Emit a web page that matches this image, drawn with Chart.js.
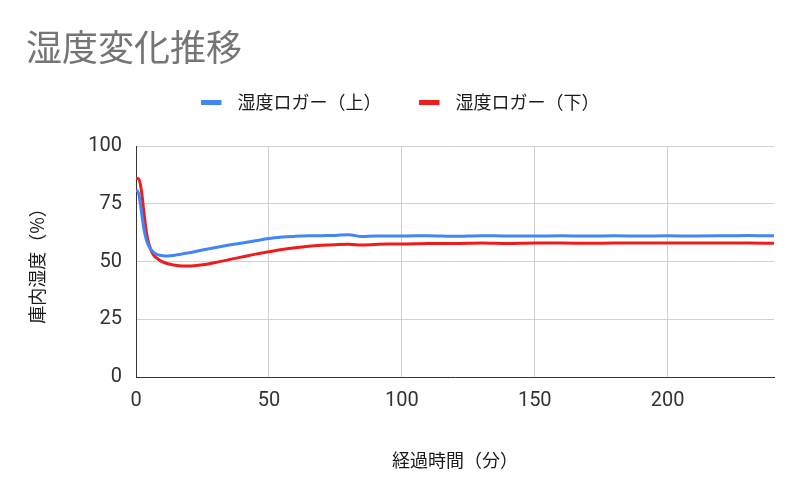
<!DOCTYPE html>
<html lang="ja">
<head>
<meta charset="utf-8">
<title>湿度変化推移</title>
<script src="https://cdn.jsdelivr.net/npm/chart.js@4.4.1/dist/chart.umd.min.js"></script>
<style>
    body { margin: 0; background: #fff; }
    #wrap { width: 800px; height: 500px; }
</style>
</head>
<body>
<div id="wrap"><canvas id="humidity-chart" width="800" height="500"></canvas></div>
<script>
// 経過時間（分）
const minutes = [0, 1, 2, 3, 4, 5, 6, 7, 8, 9, 10, 12, 14, 16, 18, 20, 25, 30, 35, 40, 45,
    50, 55, 60, 65, 70, 75, 80, 85, 90, 95, 100, 110, 120, 130, 140, 150, 160, 170,
    180, 190, 200, 210, 220, 230, 240];

// 湿度ロガー（上）
const upperHumidity = [81, 79.5, 72, 64, 59, 56.3, 54.7, 53.6, 53, 52.7, 52.5, 52.4, 52.6, 53, 53.4, 53.8, 55,
    56.1, 57.1, 58, 59, 60, 60.6, 60.9, 61.1, 61.2, 61.3, 61.6, 60.8, 61, 61, 61,
    61.2, 60.9, 61.2, 61, 61, 61.1, 61, 61.1, 61, 61.1, 61, 61.1, 61.3, 61.1];

// 湿度ロガー（下）
const lowerHumidity = [86, 85.8, 81, 71, 62, 57, 54, 52.3, 51.3, 50.5, 49.8, 49, 48.5, 48.2, 48, 48, 48.6,
    49.6, 50.8, 52, 53.2, 54.2, 55.2, 56, 56.6, 57, 57.3, 57.5, 57.1, 57.4, 57.6, 57.6,
    57.8, 57.8, 58, 57.8, 58, 58, 57.9, 58, 58, 58, 58, 58, 58, 57.9];

const seriesLabels = ['湿度ロガー（上）', '湿度ロガー（下）'];
const seriesColors = ['#4285f4', '#ee1c1c'];
const yTicks = [0, 25, 50, 75, 100];
const xTicks = [0, 50, 100, 150, 200];

const FONT = "Roboto, 'Noto Sans CJK JP', sans-serif";
const CJK_FONT = "'Noto Sans CJK JP', sans-serif";

// small legend swatch, box on the left and empty space after it
function makeSwatch(color) {
    const c = document.createElement('canvas');
    c.width = 28;
    c.height = 5;
    const g = c.getContext('2d');
    g.fillStyle = color;
    g.fillRect(0, 0, 21, 5);
    return c;
}

function toPoints(values) {
    return minutes.map((m, i) => ({ x: m, y: values[i] }));
}

// extra space below the legend
const legendGap = {
    id: 'legendGap',
    beforeInit(chart) {
        const fit = chart.legend.fit;
        chart.legend.fit = function () {
            fit.call(this);
            this.height += 25;
        };
    }
};

const ctx = document.getElementById('humidity-chart').getContext('2d');

new Chart(ctx, {
    type: 'line',
    data: {
        datasets: [upperHumidity, lowerHumidity].map((values, i) => ({
            label: seriesLabels[i],
            data: toPoints(values),
            borderColor: seriesColors[i],
            backgroundColor: seriesColors[i],
            borderWidth: 3,
            pointRadius: 0,
            pointHoverRadius: 0,
            pointStyle: makeSwatch(seriesColors[i]),
            cubicInterpolationMode: 'monotone',
            fill: false
        }))
    },
    options: {
        responsive: false,
        animation: false,
        layout: {
            padding: { left: 26, right: 26, top: 0, bottom: 0 }
        },
        plugins: {
            title: {
                display: true,
                text: '湿度変化推移',
                align: 'start',
                color: '#757575',
                font: { family: CJK_FONT, size: 36, weight: 'normal', lineHeight: 1 },
                padding: { top: 29, bottom: -9 }
            },
            legend: {
                position: 'top',
                labels: {
                    usePointStyle: true,
                    pointStyleWidth: 28,
                    padding: 37,
                    color: '#1a1a1a',
                    font: { family: CJK_FONT, size: 18 }
                }
            },
            tooltip: { enabled: false }
        },
        scales: {
            x: {
                type: 'linear',
                min: 0,
                max: 240,
                afterFit(scale) { scale.height = 123; },
                afterBuildTicks(scale) { scale.ticks = xTicks.map(v => ({ value: v })); },
                ticks: {
                    padding: 12,
                    color: '#333',
                    font: { family: FONT, size: 20 }
                },
                grid: { color: '#d0d0d0', drawTicks: false },
                border: { color: '#333', width: 1 },
                title: {
                    display: true,
                    text: '経過時間（分）',
                    color: '#1a1a1a',
                    font: { family: CJK_FONT, size: 18, lineHeight: 1 },
                    padding: { top: 0, bottom: 31 }
                }
            },
            y: {
                min: 0,
                max: 100,
                afterFit(scale) { scale.width = 110; },
                afterBuildTicks(scale) { scale.ticks = yTicks.map(v => ({ value: v })); },
                ticks: {
                    padding: 14,
                    color: '#333',
                    font: { family: FONT, size: 20 }
                },
                grid: { color: '#d0d0d0', drawTicks: false },
                border: { color: '#333', width: 1 },
                title: {
                    display: true,
                    text: '庫内湿度（%）',
                    color: '#1a1a1a',
                    font: { family: CJK_FONT, size: 18, lineHeight: 1 },
                    padding: { top: 2, bottom: 0 }
                }
            }
        }
    },
    plugins: [legendGap]
});
</script>
</body>
</html>
